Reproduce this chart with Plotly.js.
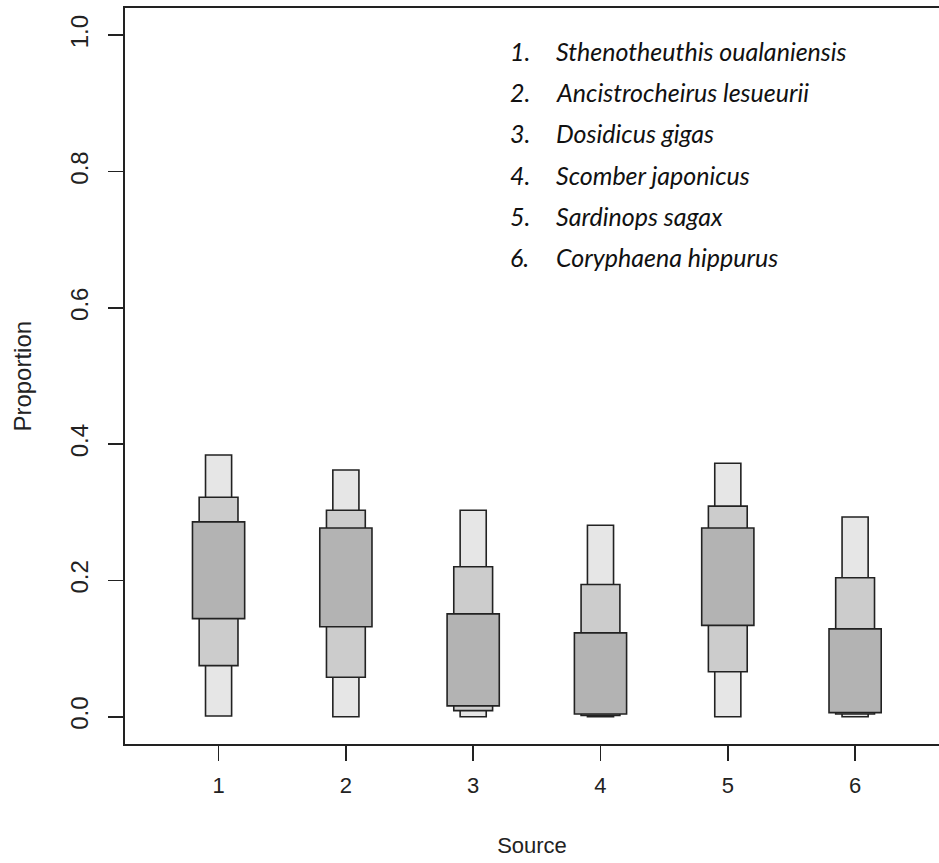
<!DOCTYPE html>
<html>
<head>
<meta charset="utf-8">
<script src="https://cdn.plot.ly/plotly-3.0.1.min.js"></script>
<style>
  html, body { margin: 0; padding: 0; background: #ffffff; }
  #chart { width: 939px; height: 863px; }
</style>
</head>
<body>
<div id="chart"></div>
<script>
// Diet sources (x positions 1..6)
const sources = [1, 2, 3, 4, 5, 6];
const speciesNames = [
  "Sthenotheuthis oualaniensis",
  "Ancistrocheirus lesueurii",
  "Dosidicus gigas",
  "Scomber japonicus",
  "Sardinops sagax",
  "Coryphaena hippurus"
];

// Credible interval bounds of the proportion for each source
const lo95 = [0.001, 0.000, 0.000, 0.000, 0.000, 0.000];
const hi95 = [0.384, 0.362, 0.303, 0.281, 0.372, 0.293];
const lo75 = [0.075, 0.058, 0.009, 0.002, 0.066, 0.004];
const hi75 = [0.322, 0.303, 0.220, 0.194, 0.309, 0.204];
const lo50 = [0.144, 0.132, 0.016, 0.004, 0.134, 0.006];
const hi50 = [0.286, 0.277, 0.151, 0.123, 0.277, 0.129];

const yTicks = [0, 0.2, 0.4, 0.6, 0.8, 1.0];

const edge = "#222222";

function band(lo, hi, fill, w) {
  return {
    type: "bar",
    x: sources,
    base: lo,
    y: hi.map((h, i) => h - lo[i]),
    width: sources.map(() => w),
    marker: { color: fill, line: { color: edge, width: 1.6 } },
    hoverinfo: "skip",
    showlegend: false
  };
}

const data = [
  band(lo95, hi95, "#e6e6e6", 0.205),
  band(lo75, hi75, "#cccccc", 0.305),
  band(lo50, hi50, "#b3b3b3", 0.41)
];

const xFont = { family: "'Liberation Sans', Arial, sans-serif", size: 22, color: "#222222" };
const yFont = { family: "'Liberation Sans', Arial, sans-serif", size: 24, color: "#222222" };

// Numbered species key in the upper right of the plot
const keyFont = { family: "Lato, 'Open Sans', sans-serif", size: 25, color: "#111111" };
const annotations = [];
const keyTop = 0.942, keyStep = 0.0561;
speciesNames.forEach((name, i) => {
  const y = keyTop - i * keyStep;
  annotations.push({
    xref: "paper", yref: "paper", x: 0.471, y: y,
    xanchor: "left", yanchor: "middle", showarrow: false,
    text: "<i>" + (i + 1) + ".</i>", font: keyFont
  });
  annotations.push({
    xref: "paper", yref: "paper", x: 0.527, y: y,
    xanchor: "left", yanchor: "middle", showarrow: false,
    text: "<i>" + name + "</i>", font: keyFont
  });
});

// Y-axis title, placed near the left edge of the page
annotations.push({
  xref: "paper", yref: "paper", x: -0.127, y: 0.5,
  xanchor: "center", yanchor: "middle", showarrow: false,
  textangle: -90, text: "Proportion", font: yFont
});

const layout = {
  width: 939,
  height: 863,
  margin: { l: 125, r: 0, t: 8, b: 119, pad: 0 },
  paper_bgcolor: "#ffffff",
  plot_bgcolor: "#ffffff",
  barmode: "overlay",
  bargap: 0,
  showlegend: false,
  font: xFont,
  xaxis: {
    range: [0.265, 6.659],
    tickmode: "array",
    tickvals: sources,
    ticktext: sources.map(String),
    ticks: "outside",
    ticklen: 15,
    tickwidth: 1.6,
    tickcolor: edge,
    ticklabelstandoff: 6,
    showline: true,
    linecolor: edge,
    linewidth: 2,
    mirror: true,
    showgrid: false,
    zeroline: false,
    tickfont: xFont,
    title: { text: "Source", font: xFont, standoff: 40 }
  },
  yaxis: {
    range: [-0.04, 1.04],
    tickmode: "array",
    tickvals: yTicks,
    ticktext: yTicks.map(v => v.toFixed(1)),
    tickangle: -90,
    ticks: "outside",
    ticklen: 15,
    tickwidth: 1.6,
    tickcolor: edge,
    ticklabelstandoff: 10,
    showline: true,
    linecolor: edge,
    linewidth: 2,
    showgrid: false,
    zeroline: false,
    tickfont: yFont
  },
  annotations: annotations
};

Plotly.newPlot("chart", data, layout, { staticPlot: true, displayModeBar: false });
</script>
</body>
</html>
